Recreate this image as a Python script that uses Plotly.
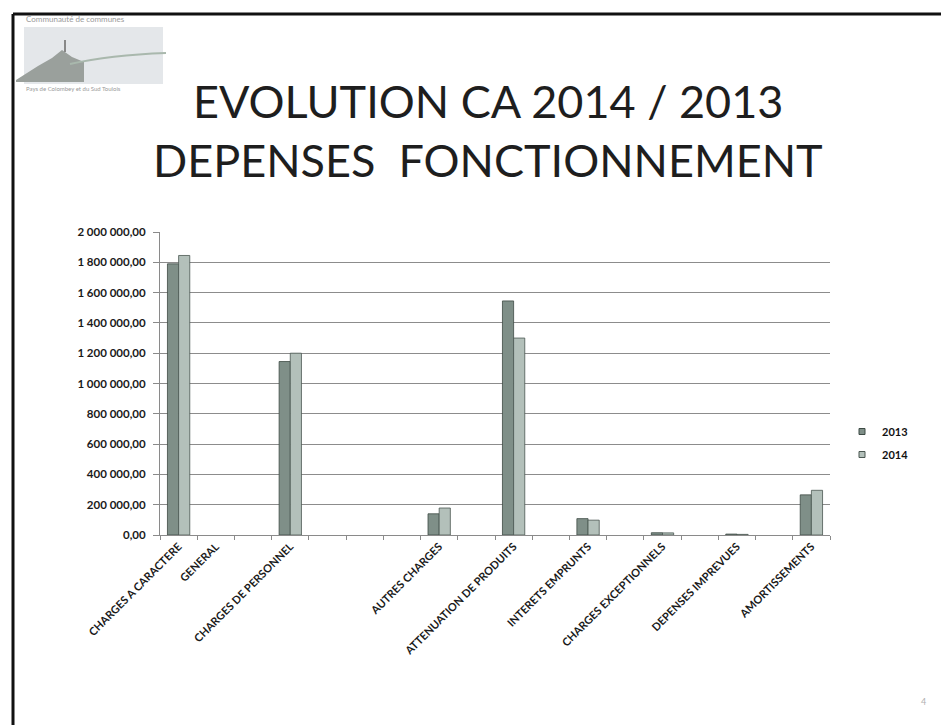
import plotly.graph_objects as go

# ---------------- data ----------------
categories = [
    "CHARGES A CARACTERE", "GENERAL", "", "CHARGES DE PERSONNEL", "", "", "",
    "AUTRES CHARGES", "", "ATTENUATION DE PRODUITS", "", "INTERETS EMPRUNTS", "",
    "CHARGES EXCEPTIONNELS", "", "DEPENSES IMPREVUES", "", "AMORTISSEMENTS",
]
values_2013 = [1790000, None, None, 1145000, None, None, None,
               140000, None, 1545000, None, 108000, None,
               15000, None, 6000, None, 265000]
values_2014 = [1845000, None, None, 1200000, None, None, None,
               178000, None, 1300000, None, 98000, None,
               14000, None, 4000, None, 295000]
series_names = ["2013", "2014"]
series_colors = ["#7f8f88", "#b3c0ba"]
y_ticks = [0, 200000, 400000, 600000, 800000, 1000000, 1200000,
           1400000, 1600000, 1800000, 2000000]

# ---------------- layout geometry (screen px; page body has 8px margin) ----
OFF = 8
SW, SH = 949, 725
W, H = SW - OFF, SH - OFF
L, R, T, B = 160, 830, 232, 535  # plot area in screen px


def px(x):
    return (x - L) / (R - L)


def py(y):
    return (B - y) / (B - T)


FONT = "Lato"
x_idx = list(range(len(categories)))

fig = go.Figure()
edge = ["#3d4a44", "#4a5751"]
for name, vals, col, ec in zip(series_names, [values_2013, values_2014], series_colors, edge):
    fig.add_trace(go.Bar(
        x=x_idx, y=vals, name=name, showlegend=False,
        marker=dict(color=col, line=dict(color=ec, width=0.8)),
    ))
# legend entries with small square markers
for name, col, ec in zip(series_names, series_colors, edge):
    fig.add_trace(go.Scatter(
        x=[None], y=[None], mode="markers", name=name, legendgroup=name,
        marker=dict(symbol="square", size=6, color=col, line=dict(color=ec, width=1)),
    ))

fig.update_layout(
    width=W, height=H,
    margin=dict(l=L - OFF, r=SW - R, t=T - OFF, b=SH - B, pad=0),
    paper_bgcolor="white", plot_bgcolor="white",
    barmode="group", bargap=0.4, bargroupgap=0,
    separators=", ",
    font=dict(family=FONT, color="#1a1a1a"),
    showlegend=True,
    legend=dict(x=px(842), y=py(417), xanchor="left", yanchor="top",
                font=dict(family=FONT, size=11, color="#111111", weight="bold"),
                itemwidth=30, tracegroupgap=4, bgcolor="rgba(0,0,0,0)"),
    xaxis=dict(
        range=[-0.5, len(categories) - 0.5],
        tickmode="array", tickvals=x_idx, ticktext=categories,
        tickangle=-45, ticks="", showgrid=False,
        tickfont=dict(family=FONT, size=11, color="#1a1a1a", weight="bold"),
        showline=True, linecolor="#8a8a8a", linewidth=1,
        minor=dict(tickmode="array",
                   tickvals=[i - 0.5 for i in range(len(categories) + 1)],
                   ticks="outside", ticklen=4, tickcolor="#8a8a8a", showgrid=False),
        zeroline=False, fixedrange=True,
    ),
    yaxis=dict(
        range=[0, 2000000], tickmode="array", tickvals=y_ticks,
        tickformat=",.2f", ticks="outside", ticklen=6, tickcolor="#8a8a8a",
        ticklabelstandoff=5,
        tickfont=dict(family=FONT, size=11.5, color="#1a1a1a", weight="bold"),
        showgrid=True, gridcolor="#8c8c8c", gridwidth=1,
        showline=True, linecolor="#8a8a8a", linewidth=1,
        zeroline=False, fixedrange=True,
    ),
)

# Title
fig.add_annotation(text="EVOLUTION CA 2014 / 2013", xref="paper", yref="paper",
                   x=px(488), y=py(101), xanchor="center", yanchor="middle",
                   showarrow=False, font=dict(family=FONT, size=45, color="#1e1e1e"))
fig.add_annotation(text="DEPENSES  FONCTIONNEMENT", xref="paper", yref="paper",
                   x=px(488), y=py(160), xanchor="center", yanchor="middle",
                   showarrow=False, font=dict(family=FONT, size=45, color="#1e1e1e"))

# Page number
fig.add_annotation(text="4", xref="paper", yref="paper", x=px(923), y=py(701),
                   xanchor="center", yanchor="middle",
                   showarrow=False, font=dict(family=FONT, size=9, color="#b0b0b0"))

# Slide frame (left and top edges)
fig.add_shape(type="line", xref="paper", yref="paper", x0=px(13), x1=px(13),
              y0=py(14), y1=py(740), line=dict(color="#111111", width=3))
fig.add_shape(type="line", xref="paper", yref="paper", x0=px(13), x1=px(960),
              y0=py(14), y1=py(14), line=dict(color="#111111", width=3))

# Logo (decorative)
fig.add_shape(type="rect", xref="paper", yref="paper", x0=px(24), x1=px(163),
              y0=py(27), y1=py(84), fillcolor="#e4e7ea", line=dict(width=0))
hill = "M {} {} L {} {} L {} {} L {} {} L {} {} L {} {} L {} {} L {} {} Z".format(
    px(16), py(80), px(38), py(66), px(52), py(58), px(62), py(50),
    px(72), py(57), px(84), py(62), px(84), py(82), px(16), py(82))
fig.add_shape(type="path", xref="paper", yref="paper", path=hill,
              fillcolor="#9aa09c", line=dict(width=0))
ridge = "M {} {} Q {} {} {} {}".format(px(70), py(64), px(110), py(55), px(166), py(53))
fig.add_shape(type="path", xref="paper", yref="paper", path=ridge,
              line=dict(color="#a9b8ad", width=2))
fig.add_shape(type="line", xref="paper", yref="paper", x0=px(65), x1=px(65),
              y0=py(40), y1=py(52), line=dict(color="#888888", width=2))
fig.add_annotation(text="Communauté de communes", xref="paper", yref="paper",
                   x=px(24), y=py(19), xanchor="left", yanchor="middle", showarrow=False,
                   font=dict(family=FONT, size=8, color="#9a9a9a"))
fig.add_annotation(text="Pays de Colombey et du Sud Toulois", xref="paper", yref="paper",
                   x=px(24), y=py(89), xanchor="left", yanchor="middle", showarrow=False,
                   font=dict(family=FONT, size=6, color="#9a9a9a"))

fig.write_html("out.html")
